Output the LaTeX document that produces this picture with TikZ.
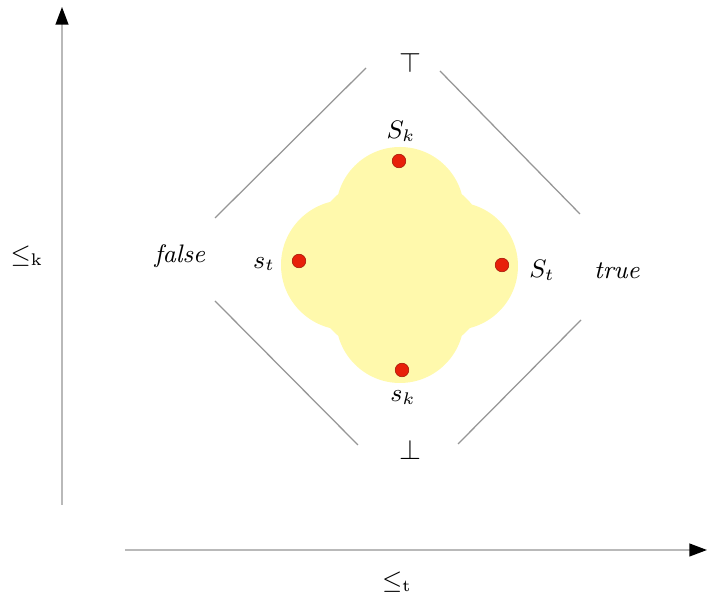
\documentclass[tikz,border=0pt]{standalone}
\usetikzlibrary{arrows.meta}
\definecolor{blobyellow}{RGB}{255,249,172}
\definecolor{dotred}{RGB}{232,32,10}
\definecolor{axisgrey}{RGB}{185,185,185}
\definecolor{linegrey}{RGB}{150,150,150}
\tikzset{
  axisline/.style={draw=axisgrey,line width=0.6pt,-{Triangle[length=2.2mm,width=1.6mm,black]}},
  diagline/.style={draw=linegrey,line width=0.45pt},
  reddot/.style={circle,fill=dotred,draw=dotred!70!black,line width=0.2pt,inner sep=0pt,minimum size=1.7mm},
  lbl/.style={inner sep=1pt},
}
\begin{document}
\begin{tikzpicture}[x=0.0125cm,y=-0.0125cm]
\useasboundingbox (0,0) rectangle (708,601);
% axes
\coordinate (vbot) at (62,505);
\coordinate (vtop) at (62,7);
\coordinate (hleft) at (125,550);
\coordinate (hright) at (707,550);
\draw[axisline] (vbot) -- (vtop);
\draw[axisline] (hleft) -- (hright);
\node[lbl] (lk) at (27,256) {\small$\leq_{\mathrm{k}}$};
\node[lbl] (lt) at (397,582) {\small$\leq_{\mathrm{t}}$};
% blob
\fill[blobyellow] (400,211) circle (64) (346,265) circle (65) (454,266) circle (64) (400,319) circle (64)
  (400,265) circle (94);
% lattice labels
\node[lbl] (top) at (410,63) {$\top$};
\node[lbl] (bot) at (410,450) {$\bot$};
\node[lbl] (false) at (180,256) {\small\textit{false}};
\node[lbl] (true) at (617,271) {\small\textit{true}};
% diamond lines
\coordinate (ula) at (215,218); \coordinate (ulb) at (366,68);
\coordinate (ura) at (440,71); \coordinate (urb) at (580,214);
\coordinate (lla) at (215,301); \coordinate (llb) at (358,445);
\coordinate (lra) at (458,444); \coordinate (lrb) at (581,320);
\draw[diagline] (ula) -- (ulb);
\draw[diagline] (ura) -- (urb);
\draw[diagline] (lla) -- (llb);
\draw[diagline] (lra) -- (lrb);
% dots
\node[reddot] (dSk) at (399,161) {};
\node[reddot] (dsk) at (402,370) {};
\node[reddot] (dst) at (299,261) {};
\node[reddot] (dSt) at (502,265) {};
\node[lbl] (Sk) at (401,131) {\small$S_k$};
\node[lbl] (sk) at (403,398) {\small$s_k$};
\node[lbl] (st) at (264,264) {\small$s_t$};
\node[lbl] (St) at (542,270) {\small$S_t$};
\end{tikzpicture}
\end{document}
